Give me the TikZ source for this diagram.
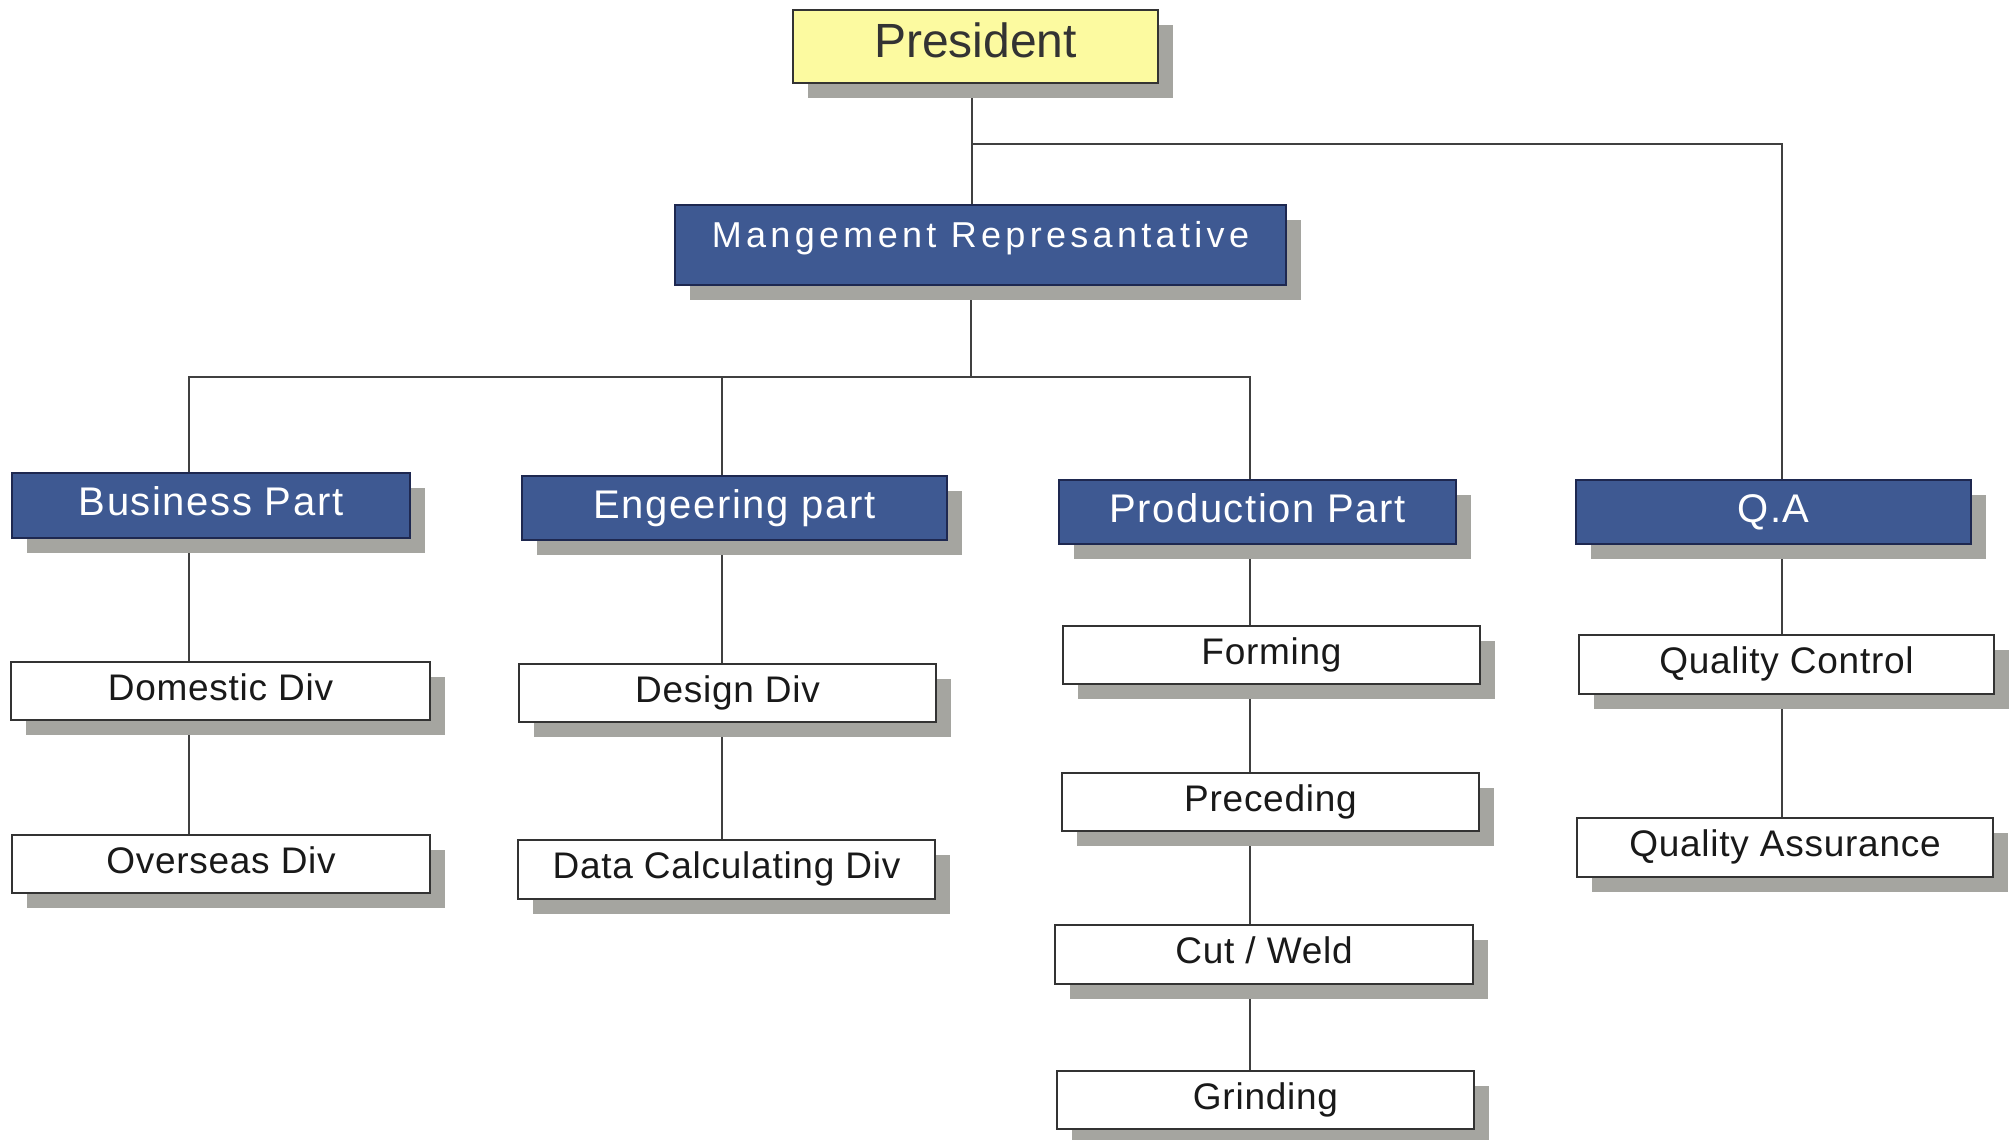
\documentclass[tikz,border=0pt]{standalone}
\usepackage{fontspec}
\setmainfont{Liberation Sans}
\usetikzlibrary{shadows,backgrounds}

\begin{document}
\begin{tikzpicture}[x=1pt,y=-1pt]

\def\shadowshift{15pt}
\def\rulewidth{1.6pt}

% Colours
\definecolor{presyellow}{RGB}{252,250,160}
\definecolor{partblue}{RGB}{62,89,146}
\definecolor{partborder}{RGB}{30,40,80}
\definecolor{shadowgray}{RGB}{165,165,160}
\colorlet{linecolor}{black!75}

% Styles
\tikzstyle{box}=[draw=black!80, line width=\rulewidth, inner sep=0pt,
  general shadow={fill=shadowgray, shadow xshift=\shadowshift, shadow yshift=-\shadowshift}]
\tikzstyle{top box}=[box, fill=presyellow, text=black!80, minimum width=365pt, minimum height=73pt,
  text height=35pt, text depth=12pt, font=\fontsize{48}{52}\selectfont]
\tikzstyle{part box}=[box, draw=partborder, fill=partblue, text=white, minimum width=397pt, minimum height=64pt,
  text height=30pt, text depth=10pt, font=\fontsize{40}{44}\selectfont\addfontfeatures{LetterSpace=4}]
\tikzstyle{div box}=[box, fill=white, text=black!90, minimum width=417pt, minimum height=58pt,
  text height=27pt, text depth=9pt, font=\fontsize{37}{40}\selectfont\addfontfeatures{LetterSpace=2}]
\tikzstyle{link}=[line width=\rulewidth, draw=linecolor]

\useasboundingbox (0,0) rectangle (2011,1140);

% Top
\node[top box] (pres) at (975.5,46.5) {President};
\node[part box, minimum width=611pt, minimum height=80pt, text height=26pt, text depth=21pt,
  font=\fontsize{36}{40}\selectfont\addfontfeatures{LetterSpace=12}] (mgmt) at (980.5,245) {Mangement Represantative};

% Parts
\node[part box, minimum width=398pt, minimum height=65pt] (bus) at (211,505.5) {Business Part};
\node[part box, minimum width=425pt] (eng) at (734.5,508) {Engeering part};
\node[part box] (prod) at (1257.5,512) {Production Part};
\node[part box, minimum width=395pt] (qa) at (1773.5,512) {Q.A};

% Divisions
\node[div box, minimum width=419pt] (dom) at (220.5,691) {Domestic Div};
\node[div box, minimum width=418pt] (over) at (221,864) {Overseas Div};
\node[div box] (design) at (727.5,693) {Design Div};
\node[div box, minimum height=59pt] (calc) at (726.5,869.5) {Data Calculating Div};
\node[div box] (form) at (1271.5,655) {Forming};
\node[div box] (prec) at (1270.5,802) {Preceding};
\node[div box, minimum width=418pt, minimum height=59pt] (cut) at (1264,954.5) {Cut / Weld};
\node[div box] (grind) at (1265.5,1100) {Grinding};
\node[div box, minimum width=415pt, minimum height=59pt] (qc) at (1786.5,664.5) {Quality Control};
\node[div box, minimum width=416pt, minimum height=59pt] (qass) at (1785,847.5) {Quality Assurance};

% Rails and columns
\coordinate (toprail) at (0,144);
\coordinate (midrail) at (0,377);
\coordinate (presx) at (972,0);
\coordinate (mgmtx) at (971,0);
\coordinate (busx) at (189,0);
\coordinate (engx) at (722,0);
\coordinate (prodx) at (1250,0);
\coordinate (qax) at (1782,0);

% Connectors
\begin{scope}[on background layer]
\draw[link] (pres.south -| presx) -- (mgmt.north -| presx);
\draw[link] (toprail -| presx) -- (toprail -| qax) -- (qa.north -| qax);
\draw[link] (mgmt.south -| mgmtx) -- (midrail -| mgmtx);
\draw[link] (bus.north -| busx) -- (midrail -| busx) -- (midrail -| prodx) -- (prod.north -| prodx);
\draw[link] (eng.north -| engx) -- (midrail -| engx);
\draw[link] (bus.south -| busx) -- (dom.north -| busx);
\draw[link] (dom.south -| busx) -- (over.north -| busx);
\draw[link] (eng.south -| engx) -- (design.north -| engx);
\draw[link] (design.south -| engx) -- (calc.north -| engx);
\draw[link] (prod.south -| prodx) -- (form.north -| prodx);
\draw[link] (form.south -| prodx) -- (prec.north -| prodx);
\draw[link] (prec.south -| prodx) -- (cut.north -| prodx);
\draw[link] (cut.south -| prodx) -- (grind.north -| prodx);
\draw[link] (qa.south -| qax) -- (qc.north -| qax);
\draw[link] (qc.south -| qax) -- (qass.north -| qax);
\end{scope}

\end{tikzpicture}
\end{document}
